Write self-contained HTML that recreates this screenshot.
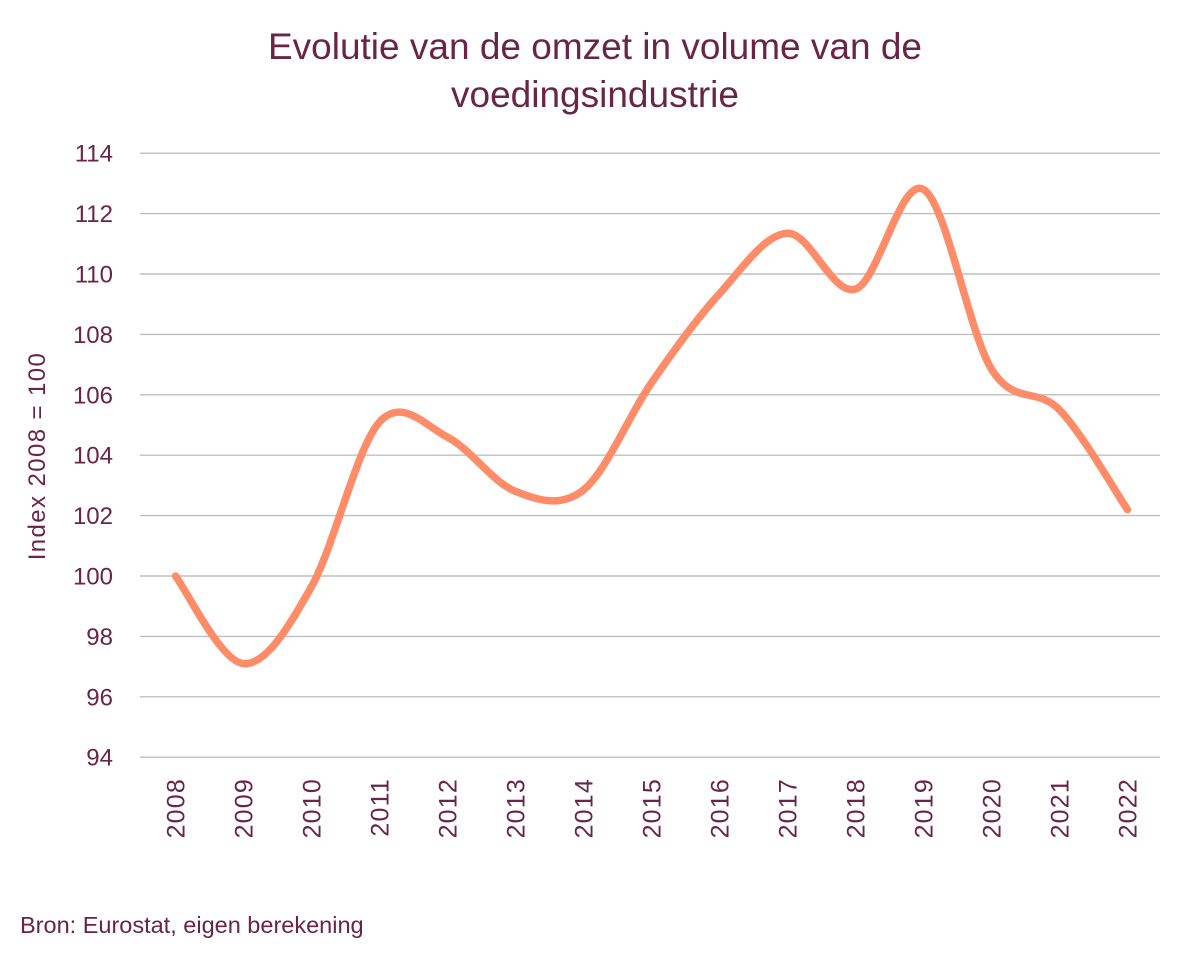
<!DOCTYPE html>
<html>
<head>
<meta charset="utf-8">
<style>
  html, body { margin: 0; padding: 0; background: #ffffff; }
  body { width: 1190px; height: 955px; overflow: hidden; }
  svg { display: block; }
  text { font-family: "Liberation Sans", "DejaVu Sans", sans-serif; fill: #6a2445; }
</style>
</head>
<body>
<svg width="1190" height="955" viewBox="0 0 1190 955" xmlns="http://www.w3.org/2000/svg">
  <rect x="0" y="0" width="1190" height="955" fill="#ffffff"/>

  <!-- Title -->
  <text x="595" y="59" font-size="37" text-anchor="middle">Evolutie van de omzet in volume van de</text>
  <text x="595" y="107" font-size="37" text-anchor="middle">voedingsindustrie</text>

  <!-- Gridlines -->
  <g stroke="#bfbfbf" stroke-width="1.4">
    <line x1="140" y1="153.2" x2="1160" y2="153.2"/>
    <line x1="140" y1="213.6" x2="1160" y2="213.6"/>
    <line x1="140" y1="274" x2="1160" y2="274"/>
    <line x1="140" y1="334.4" x2="1160" y2="334.4"/>
    <line x1="140" y1="394.8" x2="1160" y2="394.8"/>
    <line x1="140" y1="455.2" x2="1160" y2="455.2"/>
    <line x1="140" y1="515.6" x2="1160" y2="515.6"/>
    <line x1="140" y1="576" x2="1160" y2="576"/>
    <line x1="140" y1="636.4" x2="1160" y2="636.4"/>
    <line x1="140" y1="696.8" x2="1160" y2="696.8"/>
    <line x1="140" y1="757.2" x2="1160" y2="757.2"/>
  </g>

  <!-- Y tick labels -->
  <g font-size="24" text-anchor="end">
    <text x="113" y="161.7">114</text>
    <text x="113" y="222.1">112</text>
    <text x="113" y="282.5">110</text>
    <text x="113" y="342.9">108</text>
    <text x="113" y="403.3">106</text>
    <text x="113" y="463.7">104</text>
    <text x="113" y="524.1">102</text>
    <text x="113" y="584.5">100</text>
    <text x="113" y="644.9">98</text>
    <text x="113" y="705.3">96</text>
    <text x="113" y="765.7">94</text>
  </g>

  <!-- Y axis title -->
  <text transform="translate(45,456) rotate(-90)" font-size="24" text-anchor="middle" letter-spacing="1.4">Index 2008 = 100</text>

  <!-- X tick labels -->
  <g font-size="25" text-anchor="end" letter-spacing="1.2">
    <text transform="translate(184.5,778) rotate(-90)">2008</text>
    <text transform="translate(252.5,778) rotate(-90)">2009</text>
    <text transform="translate(320.5,778) rotate(-90)">2010</text>
    <text transform="translate(388.5,778) rotate(-90)">2011</text>
    <text transform="translate(456.5,778) rotate(-90)">2012</text>
    <text transform="translate(524.5,778) rotate(-90)">2013</text>
    <text transform="translate(592.5,778) rotate(-90)">2014</text>
    <text transform="translate(660.5,778) rotate(-90)">2015</text>
    <text transform="translate(728.5,778) rotate(-90)">2016</text>
    <text transform="translate(796.5,778) rotate(-90)">2017</text>
    <text transform="translate(864.5,778) rotate(-90)">2018</text>
    <text transform="translate(932.5,778) rotate(-90)">2019</text>
    <text transform="translate(1000.5,778) rotate(-90)">2020</text>
    <text transform="translate(1068.5,778) rotate(-90)">2021</text>
    <text transform="translate(1136.5,778) rotate(-90)">2022</text>
  </g>

  <!-- Series -->
  <path fill="none" stroke="#ff8c69" stroke-width="7.5" stroke-linecap="round" stroke-linejoin="round"
    d="M175.5,576
       C186.83,590.6 220.83,661.83 243.5,663.6
       C266.17,665.37 288.83,626.87 311.5,586.6
       C334.17,546.33 356.83,446.92 379.5,422
       C402.17,397.08 424.83,425.53 447.5,437.1
       C470.17,448.67 492.83,482.6 515.5,491.4
       C538.17,500.2 560.83,508.02 583.5,489.9
       C606.17,471.78 628.83,415.42 651.5,382.7
       C674.17,349.98 696.83,318.52 719.5,293.6
       C742.17,268.68 764.83,233.95 787.5,233.2
       C810.17,232.45 832.83,296.4 855.5,289.1
       C878.17,281.8 900.83,176.07 923.5,189.4
       C946.17,202.73 968.83,332.35 991.5,369.1
       C1014.17,405.85 1036.83,386.48 1059.5,409.9
       C1082.17,433.32 1116.17,492.98 1127.5,509.6"/>

  <!-- Source -->
  <text x="20" y="933" font-size="23.5">Bron: Eurostat, eigen berekening</text>
</svg>
</body>
</html>
